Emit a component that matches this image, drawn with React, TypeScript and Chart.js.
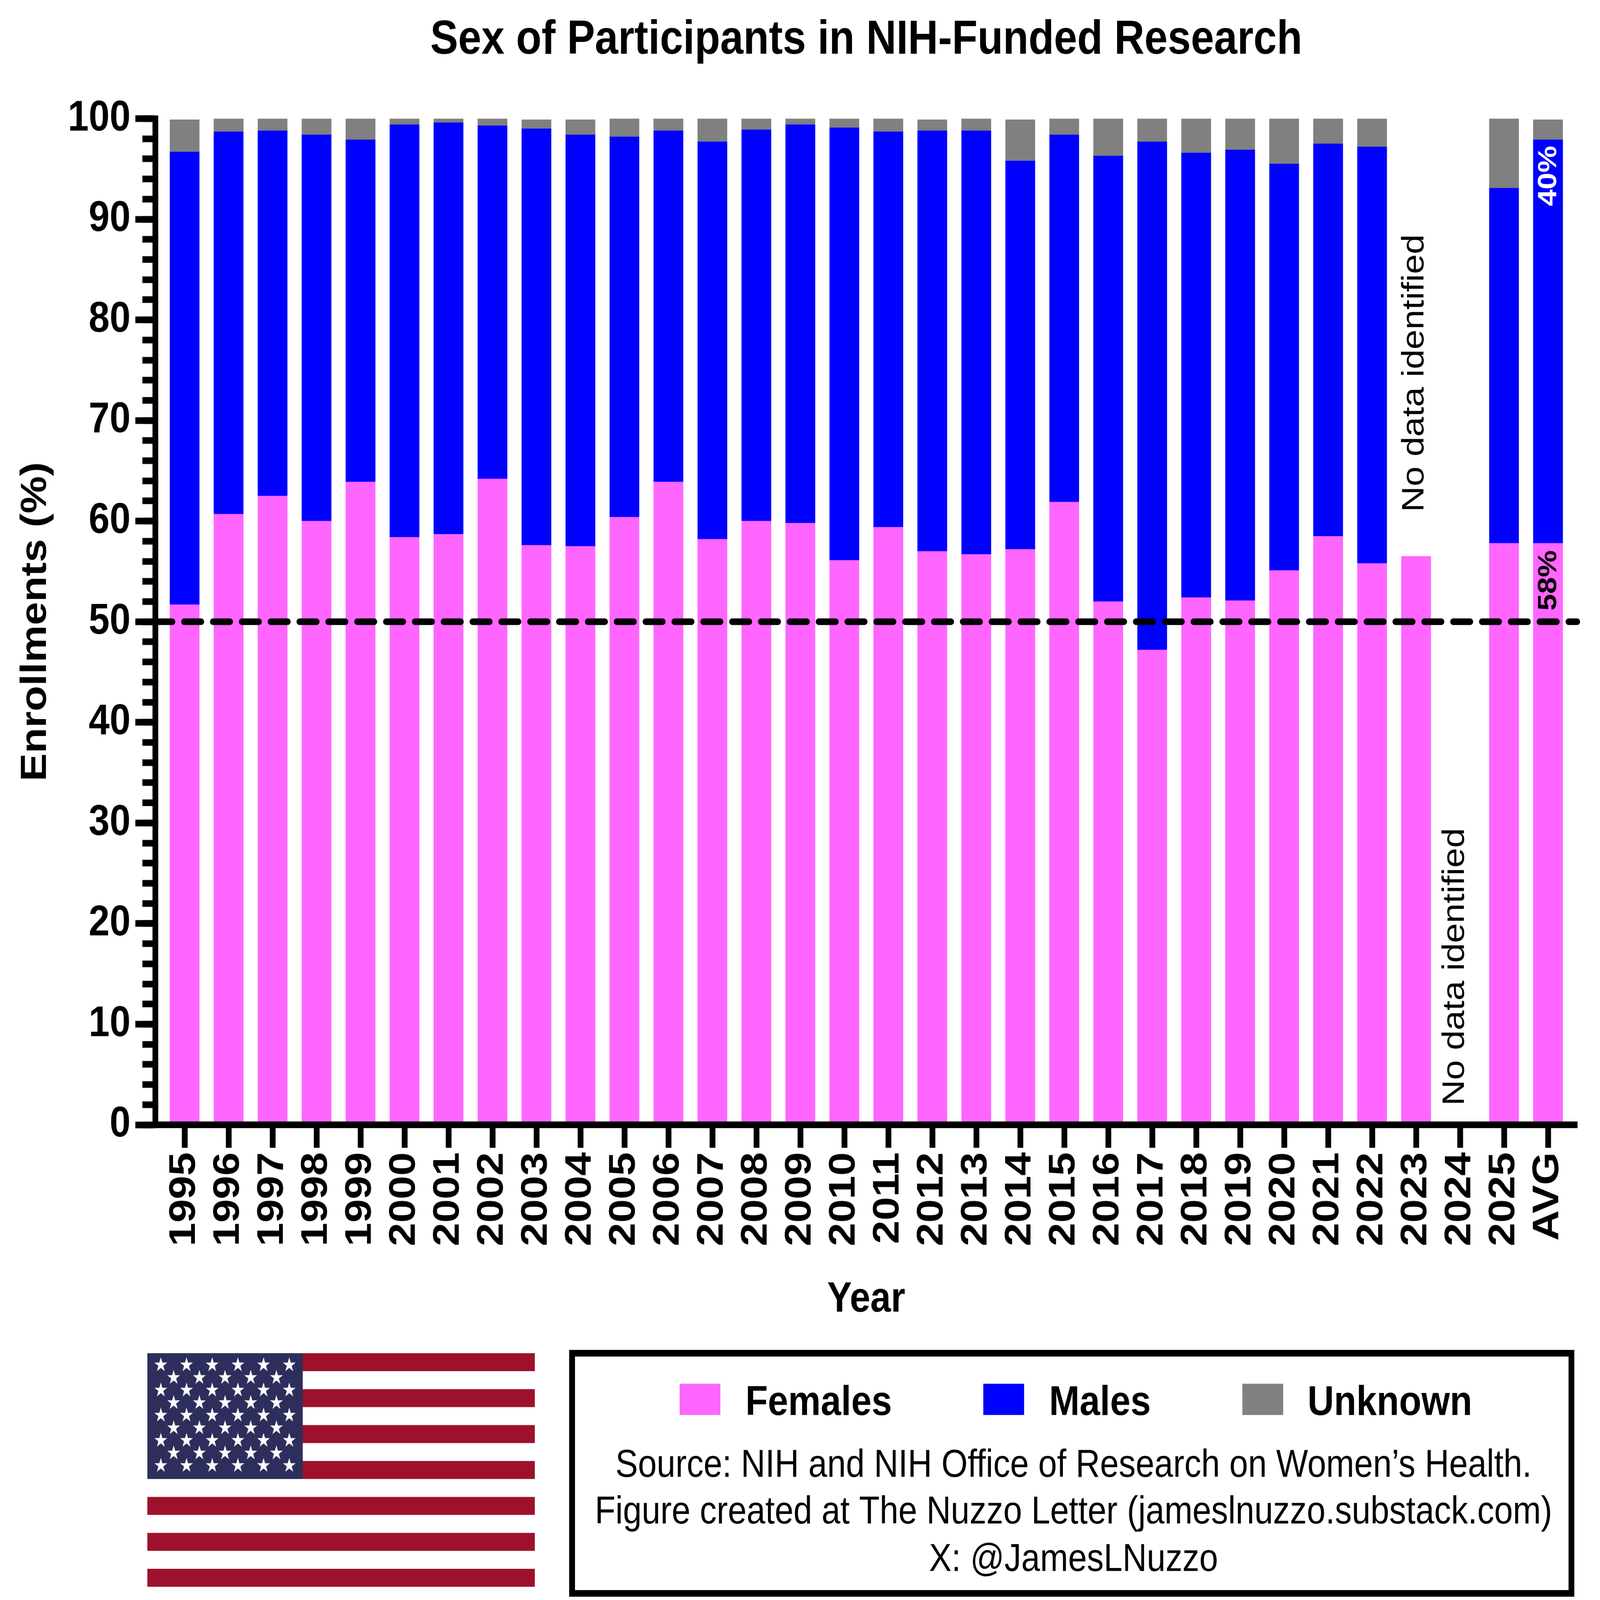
import React, { useEffect, useRef } from "react";
import { Chart, registerables } from "chart.js";

Chart.register(...registerables);

const categories = ["1995","1996","1997","1998","1999","2000","2001","2002","2003","2004","2005","2006","2007","2008","2009","2010","2011","2012","2013","2014","2015","2016","2017","2018","2019","2020","2021","2022","2023","2024","2025","AVG"];
const females = [51.7,60.7,62.5,60.0,63.9,58.4,58.7,64.2,57.6,57.5,60.4,63.9,58.2,60.0,59.8,56.1,59.4,57.0,56.7,57.2,61.9,52.0,47.2,52.4,52.1,55.1,58.5,55.8,56.5,null,57.8,57.8];
const males = [45.0,38.0,36.3,38.4,34.0,41.0,40.9,35.1,41.4,40.9,37.8,34.9,39.5,38.9,39.6,43.0,39.3,41.8,42.1,38.6,36.5,44.3,50.5,44.2,44.8,40.4,39.0,41.4,null,null,35.3,40.1];
const unknown = [3.2,1.3,1.2,1.6,2.1,0.6,0.4,0.7,0.9,1.5,1.8,1.2,2.3,1.1,0.6,0.9,1.3,1.1,1.2,4.1,1.6,3.7,2.3,3.4,3.1,4.5,2.5,2.8,null,null,6.9,2.0];
const referenceValue = 50;
const yTickStep = 10;
const yMinorStep = 2;

const FONT = '"Liberation Sans", Arial, sans-serif';
const PINK = "#FF66FF";
const BLUE = "#0000FF";
const GREY = "#808080";
const W = 4984;
const H = 4350;
const X_MIN = -0.668;
const X_MAX = 31.664;

const noteTexts = ["No data identified", "No data identified", "40%", "58%"];
const noteX = [27.97, 28.89, 31.02, 31.02];
const noteY = [74.7, 15.7, 94.3, 54.1];
const noteColors = ["#000", "#000", "#fff", "#000"];
const noteFonts = [`97px ${FONT}`, `97px ${FONT}`, `bold 82px ${FONT}`, `bold 82px ${FONT}`];

const sourceLines = [
  "Source: NIH and NIH Office of Research on Women\u2019s Health.",
  "Figure created at The Nuzzo Letter (jameslnuzzo.substack.com)",
  "X: @JamesLNuzzo",
];
const legendSwatchX = [2117, 3063, 3870];
const legendTextX = [2322, 3268, 4073];

const points = (values: (number | null)[]) =>
  values.flatMap((y, x) => (y === null ? [] : [{ x, y }]));

function drawFlag(ctx: CanvasRenderingContext2D) {
  const left = 459, right = 1666, top = 3679, bottom = 4314;
  const stripe = (bottom - top) / 13;
  ctx.fillStyle = "#9E112B";
  for (let i = 0; i < 13; i += 2) ctx.fillRect(left, top + i * stripe, right - left, stripe);
  ctx.fillStyle = "#2E2E5C";
  ctx.fillRect(left, top, 943 - left, 4021 - top);
  ctx.fillStyle = "#fff";
  for (let row = 0; row < 9; row++) {
    const n = row % 2 ? 5 : 6;
    const cy = 3711 + row * 34.2;
    for (let c = 0; c < n; c++) {
      const cx = (row % 2 ? 541 : 501) + c * 80;
      ctx.beginPath();
      for (let k = 0; k < 10; k++) {
        const r = k % 2 ? 8 : 21;
        const a = -Math.PI / 2 + (k * Math.PI) / 5;
        const px = cx + r * Math.cos(a);
        const py = cy + r * Math.sin(a);
        if (k) ctx.lineTo(px, py);
        else ctx.moveTo(px, py);
      }
      ctx.closePath();
      ctx.fill();
    }
  }
}

const extras = {
  id: "extras",
  afterDraw(chart: any) {
    const { ctx } = chart;
    const xs = chart.scales.x;
    const ys = chart.scales.y;
    ctx.save();
    noteTexts.forEach((t, i) => {
      ctx.save();
      ctx.translate(xs.getPixelForValue(noteX[i]), ys.getPixelForValue(noteY[i]));
      ctx.rotate(-Math.PI / 2);
      ctx.font = noteFonts[i];
      ctx.fillStyle = noteColors[i];
      ctx.textAlign = "center";
      ctx.textBaseline = "middle";
      ctx.fillText(t, 0, 0);
      ctx.restore();
    });

    drawFlag(ctx);

    ctx.strokeStyle = "#000";
    ctx.lineWidth = 18;
    ctx.strokeRect(1782, 3679, 4895 - 1782, 4332 - 3679);

    const bars = chart.data.datasets.filter((d: any) => d.type !== "line");
    ctx.textAlign = "left";
    ctx.textBaseline = "alphabetic";
    bars.forEach((d: any, i: number) => {
      ctx.fillStyle = d.backgroundColor;
      ctx.fillRect(legendSwatchX[i], 3762, 127, 85);
      ctx.fillStyle = "#000";
      ctx.font = `bold 114px ${FONT}`;
      ctx.fillText(d.label, legendTextX[i], 3847);
    });
    ctx.textAlign = "center";
    ctx.font = `105px ${FONT}`;
    ctx.fillStyle = "#000";
    const base = [4015, 4142, 4271];
    sourceLines.forEach((t, i) => ctx.fillText(t, 3344, base[i]));
    ctx.restore();
  },
};

export default function App() {
  const ref = useRef<HTMLCanvasElement>(null);
  useEffect(() => {
    const chart = new Chart(ref.current as HTMLCanvasElement, {
      type: "bar",
      data: {
        datasets: [
          { type: "line", label: "50%", data: [{ x: X_MIN, y: referenceValue }, { x: X_MAX, y: referenceValue }], borderColor: "#000", borderWidth: 18, borderDash: [53.5, 36.34], borderCapStyle: "round", pointRadius: 0, clip: false, order: -1 },
          { label: "Females", data: points(females), backgroundColor: PINK, barThickness: 92 },
          { label: "Males", data: points(males), backgroundColor: BLUE, barThickness: 92 },
          { label: "Unknown", data: points(unknown), backgroundColor: GREY, barThickness: 92 },
        ] as any,
      },
      options: {
        responsive: false,
        animation: false,
        devicePixelRatio: 1,
        layout: { padding: { top: 0, left: 0, right: W - 4913, bottom: 0 } },
        plugins: {
          legend: { display: false },
          tooltip: { enabled: false },
          title: {
            display: true,
            fullSize: false,
            text: "Sex of Participants in NIH-Funded Research",
            color: "#000",
            font: { family: FONT, size: 130, weight: "bold" },
            padding: { top: 32, bottom: 134.5 },
          },
        },
        scales: {
          x: {
            type: "linear",
            stacked: true,
            offset: false,
            min: X_MIN,
            max: X_MAX,
            afterFit(s: any) { s.height = H - 3058; },
            border: { display: true, width: 18, color: "#000", z: 1 },
            grid: { display: true, offset: false, drawOnChartArea: false, drawTicks: true, tickLength: 62.5, tickWidth: 18, tickColor: "#000", z: 1 },
            ticks: {
              stepSize: 1,
              includeBounds: false,
              autoSkip: false,
              minRotation: 90,
              maxRotation: 90,
              padding: 12,
              color: "#000",
              font: { family: FONT, size: 115, weight: "bold" },
              callback: (v: any) => categories[v] ?? "",
            },
            title: {
              display: true,
              text: "Year",
              color: "#000",
              font: { family: FONT, size: 115, weight: "bold" },
              padding: { top: 747, bottom: 747 },
            },
          },
          y: {
            type: "linear",
            stacked: true,
            min: 0,
            max: 100,
            weight: 1,
            afterFit(s: any) { s.width = 483.5; },
            border: { display: true, width: 18, color: "#000", z: 1 },
            grid: { display: true, drawOnChartArea: false, drawTicks: true, tickLength: 62, tickWidth: 18, tickColor: "#000", z: 1 },
            ticks: {
              stepSize: yTickStep,
              padding: 15,
              color: "#000",
              font: { family: FONT, size: 117, weight: "bold" },
            },
            title: {
              display: true,
              text: "Enrollments (%)",
              color: "#000",
              font: { family: FONT, size: 114, weight: "bold" },
              padding: { top: 43, bottom: 43 },
            },
          },
          yMinor: {
            type: "linear",
            axis: "y",
            position: "left",
            min: 0,
            max: 100,
            weight: 0,
            afterFit(s: any) { s.width = 0; },
            border: { display: false },
            grid: { display: true, drawOnChartArea: false, drawTicks: true, tickLength: 40, tickWidth: 18, tickColor: "#000", z: 1 },
            ticks: { stepSize: yMinorStep, display: false },
          },
        },
      } as any,
      plugins: [extras],
    });
    return () => chart.destroy();
  }, []);
  return (
    <div style={{ position: "fixed", left: 0, top: 0, width: "100vw", height: "100vh", overflow: "hidden", background: "#fff" }}>
      <canvas ref={ref} width={W} height={H} style={{ display: "block", width: "100vw", height: "100vh" }} />
    </div>
  );
}
